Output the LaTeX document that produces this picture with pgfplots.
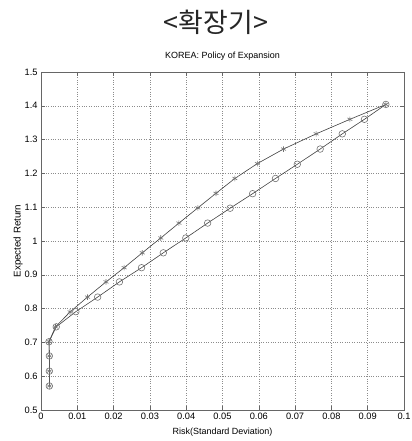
\documentclass[border=0pt]{standalone}
\usepackage{fontspec}
\setmainfont{Liberation Sans}
\newfontfamily\cjk{Noto Sans CJK KR}
\usepackage{pgfplots}
\pgfplotsset{compat=1.18}
\begin{document}
\begin{tikzpicture}[x=1bp,y=1bp]
\path[use as bounding box] (0,0) rectangle (411,441);
\node[font=\cjk\fontsize{27}{27}\selectfont, anchor=center, text=black!85] at (216,419) {<확장기>};
\begin{axis}[
  at={(41bp,31bp)}, anchor=south west,
  scale only axis, width=363bp, height=338bp,
  xmin=0, xmax=0.1, ymin=0.5, ymax=1.5,
  xtick={0,0.01,0.02,0.03,0.04,0.05,0.06,0.07,0.08,0.09,0.1},
  ytick={0.5,0.6,0.7,0.8,0.9,1,1.1,1.2,1.3,1.4,1.5},
  scaled x ticks=false, scaled y ticks=false,
  xticklabel style={/pgf/number format/fixed,/pgf/number format/precision=2},
  yticklabel style={/pgf/number format/fixed,/pgf/number format/precision=1},
  /pgf/number format/assume math mode=true,
  ticklabel style={font=\fontsize{9.3}{10}\selectfont},
  grid=major, grid style={dotted, black!45, line width=0.45bp},
  tick align=inside, major tick length=4bp,
  axis line style={black!60, line width=0.6bp},
  tick style={black!60, line width=0.5bp},
  title={KOREA: Policy of Expansion},
  title style={font=\fontsize{9}{10}\selectfont, at={(axis description cs:0.5,1.0296)}, anchor=center},
  xlabel={Risk(Standard Deviation)},
  xlabel style={font=\fontsize{9}{10}\selectfont, at={(axis description cs:0.5,-0.066)}, anchor=center},
  ylabel={Expected Return},
  ylabel style={font=\fontsize{9.8}{10}\selectfont, at={(axis description cs:-0.063,0.5)}, anchor=center},
]
\addplot[black!75, line width=0.6bp, mark=asterisk, mark size=2.8bp, mark options={black!55, line width=0.6bp}] coordinates {
(0.0023,0.571) (0.0023,0.615) (0.0023,0.660) (0.0022,0.702) (0.0040,0.746)
(0.0080,0.790) (0.0128,0.834) (0.0179,0.879) (0.0229,0.921) (0.0279,0.965)
(0.0330,1.009) (0.0380,1.053) (0.0432,1.098) (0.0482,1.141) (0.0534,1.185)
(0.0596,1.229) (0.0668,1.272) (0.0758,1.317) (0.0851,1.360) (0.0950,1.404)
};
\addplot[black!75, line width=0.6bp, mark=o, mark size=3.3bp, mark options={black!55, line width=0.6bp}] coordinates {
(0.0023,0.571) (0.0023,0.615) (0.0023,0.660) (0.0022,0.702) (0.0042,0.746)
(0.0096,0.791) (0.0156,0.834) (0.0216,0.879) (0.0277,0.921) (0.0337,0.965)
(0.0399,1.009) (0.0459,1.053) (0.0521,1.097) (0.0583,1.140) (0.0646,1.185)
(0.0706,1.227) (0.0769,1.272) (0.0830,1.317) (0.0891,1.360) (0.0950,1.404)
};
\end{axis}
\end{tikzpicture}
\end{document}
